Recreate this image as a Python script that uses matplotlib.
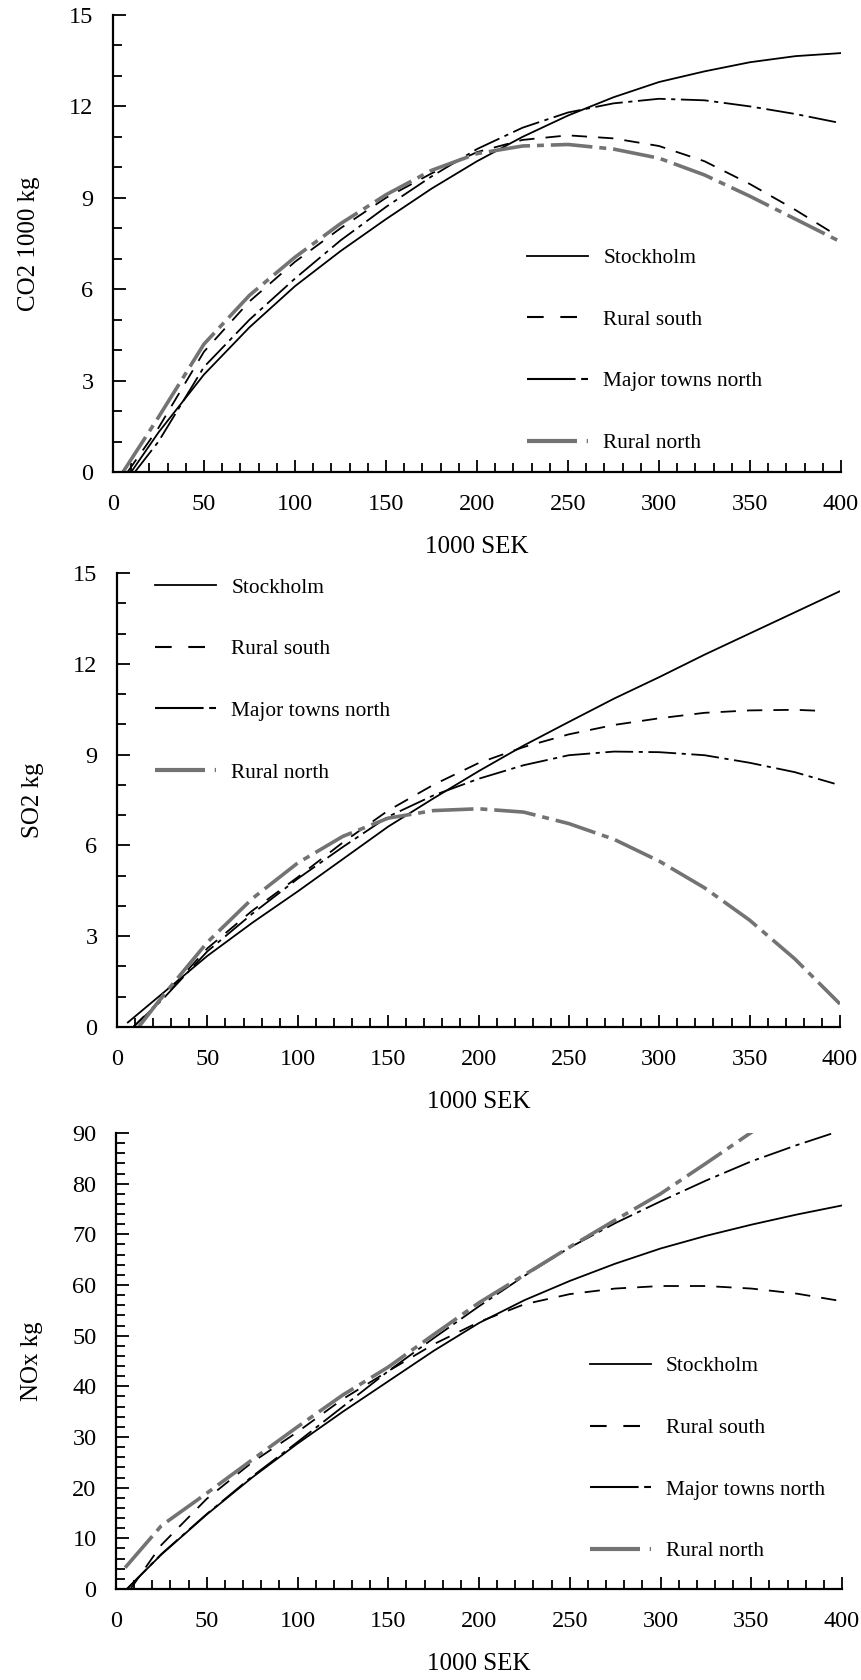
import matplotlib
matplotlib.use('Agg')
import matplotlib.pyplot as plt
from matplotlib.lines import Line2D
from matplotlib.ticker import MultipleLocator

plt.rcParams['font.family'] = ['Liberation Serif', 'DejaVu Serif']
plt.rcParams['lines.scale_dashes'] = False

series_names = ['Stockholm', 'Rural south', 'Major towns north', 'Rural north']

# ---------------- CO2 (1000 kg) ----------------
co2_stockholm_x = [10, 25, 50, 75, 100, 125, 150, 175, 200, 225, 250, 275, 300, 325, 350, 375, 400]
co2_stockholm_y = [0, 1.3, 3.2, 4.75, 6.1, 7.25, 8.3, 9.3, 10.2, 11.0, 11.7, 12.3, 12.8, 13.15, 13.45, 13.65, 13.75]
co2_south_x = [8, 25, 50, 75, 100, 125, 150, 175, 200, 225, 250, 275, 300, 325, 350, 375, 394]
co2_south_y = [0, 1.45, 3.95, 5.6, 6.9, 8.0, 9.0, 9.8, 10.5, 10.9, 11.05, 10.95, 10.7, 10.2, 9.45, 8.6, 7.9]
co2_major_x = [12, 25, 50, 75, 100, 125, 150, 175, 200, 225, 250, 275, 300, 325, 350, 375, 400]
co2_major_y = [0, 1.0, 3.45, 5.0, 6.35, 7.6, 8.7, 9.7, 10.6, 11.3, 11.8, 12.1, 12.25, 12.2, 12.0, 11.75, 11.45]
co2_north_x = [5.5, 25, 50, 75, 100, 125, 150, 175, 200, 225, 250, 275, 300, 325, 350, 375, 400]
co2_north_y = [0, 1.8, 4.2, 5.8, 7.05, 8.15, 9.1, 9.9, 10.45, 10.7, 10.75, 10.6, 10.3, 9.75, 9.05, 8.3, 7.55]

# ---------------- SO2 (kg) ----------------
so2_stockholm_x = [6, 25, 50, 75, 100, 125, 150, 175, 200, 225, 250, 275, 300, 325, 350, 375, 400]
so2_stockholm_y = [0.15, 1.1, 2.35, 3.45, 4.48, 5.55, 6.62, 7.55, 8.45, 9.3, 10.08, 10.85, 11.56, 12.3, 13.0, 13.7, 14.4]
so2_south_x = [9, 25, 50, 75, 100, 125, 150, 175, 200, 225, 250, 275, 300, 325, 350, 375, 392]
so2_south_y = [0, 0.95, 2.6, 3.85, 4.95, 6.1, 7.15, 8.0, 8.72, 9.25, 9.67, 9.98, 10.2, 10.38, 10.46, 10.48, 10.44]
so2_major_x = [9, 25, 50, 75, 100, 125, 150, 175, 200, 225, 250, 275, 300, 325, 350, 375, 397]
so2_major_y = [0, 0.9, 2.5, 3.75, 4.9, 5.95, 6.95, 7.65, 8.2, 8.65, 8.98, 9.1, 9.08, 8.98, 8.73, 8.42, 8.04]
so2_north_x = [12, 25, 50, 75, 100, 125, 150, 175, 200, 225, 250, 275, 300, 325, 350, 375, 400]
so2_north_y = [0, 1.0, 2.8, 4.25, 5.42, 6.3, 6.9, 7.15, 7.21, 7.1, 6.72, 6.2, 5.48, 4.6, 3.53, 2.25, 0.76]

# ---------------- NOx (kg) ----------------
nox_stockholm_x = [6, 25, 50, 75, 100, 125, 150, 175, 200, 225, 250, 275, 300, 325, 350, 375, 400]
nox_stockholm_y = [0, 6.8, 14.7, 22.0, 28.7, 35.0, 41.0, 47.0, 52.5, 57.0, 60.8, 64.2, 67.2, 69.7, 71.9, 73.9, 75.7]
nox_south_x = [8, 25, 50, 75, 100, 125, 150, 175, 200, 225, 250, 275, 300, 325, 350, 375, 400]
nox_south_y = [0, 8.7, 17.8, 25.0, 31.0, 37.5, 43.0, 48.3, 52.7, 56.2, 58.2, 59.3, 59.8, 59.8, 59.3, 58.3, 56.8]
nox_major_x = [6, 25, 50, 75, 100, 125, 150, 175, 200, 225, 250, 275, 300, 325, 350, 375, 397]
nox_major_y = [0, 6.9, 14.8, 22.2, 29.0, 36.0, 43.0, 49.5, 55.8, 61.8, 67.4, 72.2, 76.5, 80.6, 84.4, 87.6, 90.2]
nox_north_x = [5, 25, 50, 75, 100, 125, 150, 175, 200, 225, 250, 275, 300, 325, 352]
nox_north_y = [4.2, 12.5, 18.9, 25.5, 32.0, 38.3, 43.8, 50.2, 56.5, 62.0, 67.5, 72.8, 78.0, 84.0, 90.6]

GRAY = '#737373'
styles = {
    'Stockholm': dict(color='black', lw=1.3, ls='-'),
    'Rural south': dict(color='black', lw=1.3, dashes=(11, 8)),
    'Major towns north': dict(color='black', lw=1.3, dashes=(20, 4, 3, 4)),
    'Rural north': dict(color=GRAY, lw=2.6, dashes=(30, 5, 5, 5)),
}
legend_styles = {
    'Stockholm': dict(color='black', lw=1.3, ls='-'),
    'Rural south': dict(color='black', lw=1.5, dashes=(12, 12)),
    'Major towns north': dict(color='black', lw=1.5, dashes=(35, 4, 5, 30)),
    'Rural north': dict(color=GRAY, lw=3.0, dashes=(36, 7, 6, 30)),
}

panels = [
    dict(pos=[113/861, 1-472/1680, 728/861, 457/1680], ylim=15, ymaj=3, ymin=1,
         ylabel='CO2 1000 kg',
         data=[(co2_stockholm_x, co2_stockholm_y), (co2_south_x, co2_south_y),
               (co2_major_x, co2_major_y), (co2_north_x, co2_north_y)],
         leg=(0.569, 0.49)),
    dict(pos=[117/861, 1-1027/1680, 723/861, 454/1680], ylim=15, ymaj=3, ymin=1,
         ylabel='SO2 kg',
         data=[(so2_stockholm_x, so2_stockholm_y), (so2_south_x, so2_south_y),
               (so2_major_x, so2_major_y), (so2_north_x, so2_north_y)],
         leg=(0.053, 0.99)),
    dict(pos=[116/861, 1-1589/1680, 726/861, 456/1680], ylim=90, ymaj=10, ymin=2,
         ylabel='NOx kg',
         data=[(nox_stockholm_x, nox_stockholm_y), (nox_south_x, nox_south_y),
               (nox_major_x, nox_major_y), (nox_north_x, nox_north_y)],
         leg=(0.653, 0.51)),
]

fig = plt.figure(figsize=(8.61, 16.8), dpi=100)
for p in panels:
    ax = fig.add_axes(p['pos'])
    for name, (xs, ys) in zip(series_names, p['data']):
        ax.plot(xs, ys, label=name, **styles[name])
    ax.set_xlim(0, 400)
    ax.set_ylim(0, p['ylim'])
    ax.xaxis.set_major_locator(MultipleLocator(50))
    ax.xaxis.set_minor_locator(MultipleLocator(10))
    ax.yaxis.set_major_locator(MultipleLocator(p['ymaj']))
    ax.yaxis.set_minor_locator(MultipleLocator(p['ymin']))
    for s in ['top', 'right']:
        ax.spines[s].set_visible(False)
    for s in ['left', 'bottom']:
        ax.spines[s].set_linewidth(1.6)
    ax.tick_params(which='major', direction='in', length=9, width=1.3, labelsize=17.5)
    ax.tick_params(which='minor', direction='in', length=6.5, width=1.3)
    ax.tick_params(axis='x', which='major', pad=16)
    ax.tick_params(axis='y', which='major', pad=14)
    ax.set_xlabel('1000 SEK', fontsize=18, labelpad=15)
    ax.set_ylabel(p['ylabel'], fontsize=18, labelpad=21)
    handles = [Line2D([0], [0], **legend_styles[n]) for n in series_names]
    ax.legend(handles, series_names, loc='upper left', bbox_to_anchor=p['leg'],
              frameon=False, fontsize=15.4, labelspacing=1.95, handlelength=2.85,
              handletextpad=0.7, borderpad=0, borderaxespad=0)

fig.savefig('out.png', dpi=100)
